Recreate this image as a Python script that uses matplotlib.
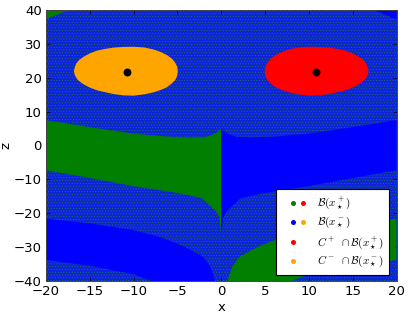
import matplotlib
matplotlib.use("Agg")
import numpy as np
import matplotlib.pyplot as plt
from matplotlib.legend_handler import HandlerTuple

plt.rcParams['mathtext.fontset'] = 'cm'
plt.rcParams['font.size'] = 9
plt.rcParams['hatch.linewidth'] = 0.4

GREEN = '#007f00'
BLUE = '#0000ff'
RED = '#ff0000'
ORANGE = '#ffa500'
MIXED = '#0c22dc'
SPECKLE = '#1f7048'

# Values. Left side regions, the right side is the mirror image
corner_x = [-20, -19.6, -19, -18.2, -17.3, -20]
corner_z = [37.3, 37.7, 38.3, 39.2, 40, 40]

solid_x = [-20, -15, -10, -6, -3.5, -1.8, -1, -0.4, 0, 0, -0.25, -0.6, -1.2, -2.2, -3.5, -5, -7.5, -10, -15, -20]
solid_z = [7.5, 5.4, 3.5, 2.6, 2.4, 2.5, 3.2, 4, 5, -26, -21, -19.5, -18, -15.6, -14.8, -14, -13, -12, -9.6, -7.3]

band_x = [-20, -15, -10, -7, -5, -3.5, -2, -1.2, -0.7, -8, -10, -15, -20]
band_z = [-21.6, -23, -25, -27, -29, -30.8, -33, -36, -40, -40, -38, -35.5, -33.8]

# outline of the C- set, C+ is the mirror image
egg_x = [-16.82, -16.7, -16.55, -16.2, -15.71, -15, -14.19, -13.3, -12.29, -11.2, -10.0, -8.8,
         -7.72, -6.9, -6.2, -5.6, -5.25, -5.02, -4.95, -5.02, -5.25, -5.7, -6.2, -6.9, -7.72,
         -8.8, -10.0, -11.2, -12.29, -13.2, -14.19, -15, -15.8, -16.4, -16.7]
egg_z = [21.98, 23.2, 24.2, 25.3, 26.2, 27.2, 28, 28.5, 28.9, 29.1, 29.15, 28.95,
         28.35, 27.6, 26.7, 25.6, 24.4, 23.2, 21.98, 20.6, 19.3, 18.2, 17.2, 16.4, 15.7,
         15.1, 14.7, 14.8, 15.2, 15.7, 16.3, 17.1, 18.2, 19.4, 20.7]

fixed_x = [-10.8, 10.8]
fixed_z = [21.8, 21.8]

xticks = [-20, -15, -10, -5, 0, 5, 10, 15, 20]
zticks = [-40, -30, -20, -10, 0, 10, 20, 30, 40]

mirror = lambda values: [-v for v in values]

fig = plt.figure(figsize=(4.15, 3.12), dpi=100)
ax = fig.add_axes([46 / 415, 31 / 312, 350.5 / 415, 271 / 312])

# speckled part of the plane, both basins mixed
ax.fill([-20, 20, 20, -20], [-40, -40, 40, 40], facecolor=MIXED, edgecolor=SPECKLE,
        hatch='......', linewidth=0, zorder=1)

ax.fill(corner_x, corner_z, color=GREEN, lw=0, zorder=2)
ax.fill(mirror(corner_x), corner_z, color=BLUE, lw=0, zorder=2)
ax.fill(solid_x, solid_z, color=GREEN, lw=0, zorder=2)
ax.fill(mirror(solid_x), solid_z, color=BLUE, lw=0, zorder=2)
ax.fill(band_x, band_z, color=BLUE, lw=0, zorder=2)
ax.fill(mirror(band_x), band_z, color=GREEN, lw=0, zorder=2)

ax.fill(egg_x, egg_z, color=ORANGE, lw=0, zorder=3)
ax.fill(mirror(egg_x), egg_z, color=RED, lw=0, zorder=3)
ax.scatter(fixed_x, fixed_z, s=22, color='black', zorder=4)

ax.set_xlim(-20, 20)
ax.set_ylim(-40, 40)
ax.set_xticks(xticks)
ax.set_yticks(zticks)
ax.tick_params(direction='in', length=3, width=0.5, top=True, right=True, pad=3, labelsize=9.5)
for s in ax.spines.values():
    s.set_linewidth(0.7)
    s.set_color('#444444')
ax.set_xlabel('x', fontsize=9.5)
ax.set_ylabel('z', fontsize=9.5)
ax.xaxis.set_label_coords(0.5, -0.072)
ax.yaxis.set_label_coords(-0.095, 0.5)

# legend handles, three slots so the dots sit where they do in the original
def dot(c):
    return ax.scatter([], [], s=13, color=c, linewidths=0)

def gap():
    return ax.scatter([], [], s=13, color='none', linewidths=0)

handles = [(gap(), dot(GREEN), dot(RED)), (gap(), dot(BLUE), dot(ORANGE)),
           (gap(), dot(RED), gap()), (gap(), dot(ORANGE), gap())]
labels = [r'$\mathcal{B}(x_\star^+)$', r'$\mathcal{B}(x_\star^-)$',
          r'$C^+\ \cap\mathcal{B}(x_\star^+)$', r'$C^-\ \cap\mathcal{B}(x_\star^-)$']
leg = ax.legend(handles, labels, handler_map={tuple: HandlerTuple(ndivide=3, pad=0.63)},
                loc='lower right', bbox_to_anchor=(343 / 350.5, 6 / 271),
                borderaxespad=0, fontsize=8, frameon=True, fancybox=False, framealpha=1,
                labelspacing=0.32, handlelength=2.1, handletextpad=1.04, borderpad=0.5)
leg.get_frame().set_edgecolor('black')
leg.get_frame().set_linewidth(0.8)
leg.set_zorder(5)

fig.savefig('out.png', dpi=100)
